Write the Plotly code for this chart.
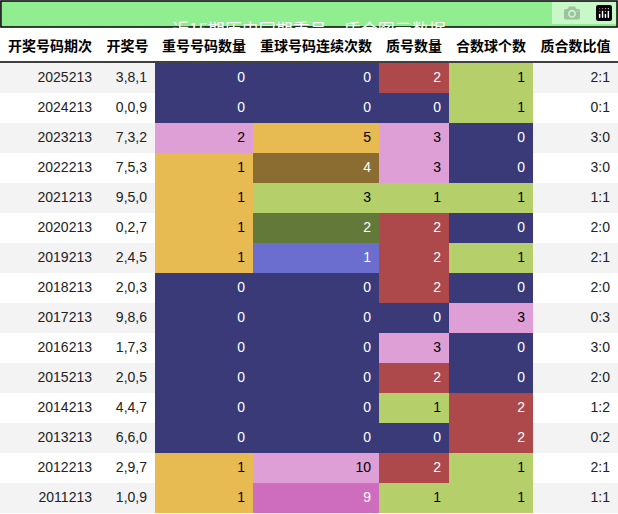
import plotly.graph_objects as go

periods = ["2025213","2024213","2023213","2022213","2021213","2020213","2019213","2018213","2017213","2016213","2015213","2014213","2013213","2012213","2011213"]
draws = ["3,8,1","0,0,9","7,3,2","7,5,3","9,5,0","0,2,7","2,4,5","2,0,3","9,8,6","1,7,3","2,0,5","4,4,7","6,6,0","2,9,7","1,0,9"]
repeat_cnt = [0,0,2,1,1,1,1,0,0,0,0,0,0,1,1]
repeat_run = [0,0,5,4,3,2,1,0,0,0,0,0,0,10,9]
prime_cnt = [2,0,3,3,1,2,2,2,0,3,2,1,0,2,1]
comp_cnt = [1,1,0,0,1,0,1,0,3,0,0,2,2,1,1]
ratio = ["2:1","0:1","3:0","3:0","1:1","2:0","2:1","2:0","0:3","3:0","2:0","1:2","0:2","2:1","1:1"]
headers = ["开奖号码期次","开奖号","重号号码数量","重球号码连续次数","质号数量","合数球个数","质合数比值"]

NAVY="#3a3a78"; RED="#ad494a"; LG="#b5cf6b"; PINK="#de9ed6"; YEL="#e7ba52"
BROWN="#8c6d31"; DG="#637939"; BLUE="#6b6ecf"; MAG="#ce6dbd"
map_rep = {0:NAVY,1:YEL,2:PINK}
map_run = {0:NAVY,1:BLUE,2:DG,3:LG,4:BROWN,5:YEL,9:MAG,10:PINK}
map_pc = {0:NAVY,1:LG,2:RED,3:PINK}
dark = {NAVY,RED,BROWN,DG,BLUE,MAG}

stripe = ["#f3f3f3" if i%2==0 else "#ffffff" for i in range(len(periods))]
def fills(vals,m): return [m[v] for v in vals]
def fonts(fl): return ["#ffffff" if c in dark else "#000000" for c in fl]
f_rep=fills(repeat_cnt,map_rep); f_run=fills(repeat_run,map_run)
f_pc=fills(prime_cnt,map_pc); f_cc=fills(comp_cnt,map_pc)
black=["#222"]*len(periods)

fig = go.Figure(go.Table(
    domain=dict(x=[0,1],y=[0,(514-27)/514]),
    columnwidth=[100,55,98,126,70,84,85],
    header=dict(values=[f"<b>{h}</b>" for h in headers], fill_color="white",
                line=dict(width=0), align="center", height=36,
                font=dict(size=14,color="#000",family="Noto Sans CJK SC")),
    cells=dict(values=[periods,draws,repeat_cnt,repeat_run,prime_cnt,comp_cnt,ratio],
               fill_color=[stripe,stripe,f_rep,f_run,f_pc,f_cc,stripe],
               font=dict(size=14,family="Liberation Sans",
                         color=[black,black,fonts(f_rep),fonts(f_run),fonts(f_pc),fonts(f_cc),black]),
               line=dict(width=0), align="right", height=30)
))
fig.update_layout(width=618,height=514,margin=dict(l=0,r=0,t=0,b=0),paper_bgcolor="white",
    shapes=[dict(type="rect",xref="paper",yref="paper",x0=0.0015,x1=0.9985,y0=1-27/514,y1=0.998,
                 fillcolor="#90ee90",line=dict(color="black",width=1.5),layer="above"),
            dict(type="line",xref="paper",yref="paper",x0=0,x1=1,y0=1-62/514,y1=1-62/514,
                 line=dict(color="black",width=1.5),layer="above")],
    annotations=[dict(text="近15期历史同期重号，质合图示数据",x=0.5,y=1-13.5/514,xref="paper",yref="paper",
                      showarrow=False,font=dict(size=17,color="white",family="Noto Sans CJK SC"))])
fig.write_html("out.html", post_script="document.body.style.margin='0';document.body.style.overflow='hidden';")
